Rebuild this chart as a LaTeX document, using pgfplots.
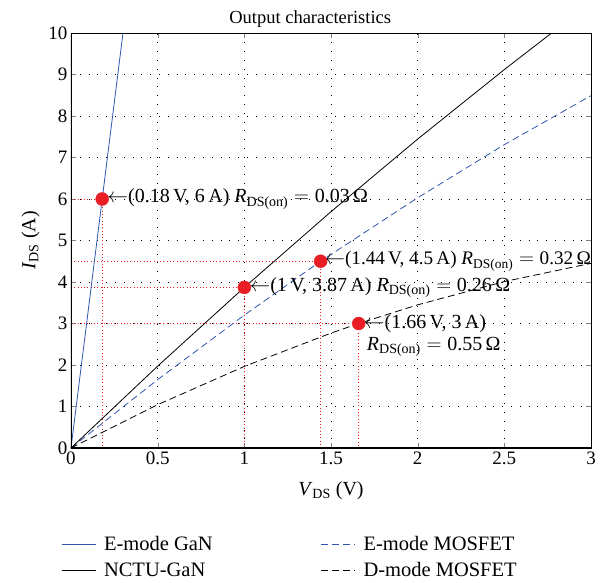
\documentclass[border=0pt]{standalone}
\usepackage{pgfplots}
\pgfplotsset{compat=1.18}
\usepackage{fontspec}
\setmainfont{Liberation Serif}

\definecolor{gblue}{RGB}{48,84,176}
\definecolor{mred}{RGB}{232,30,36}

\newcommand{\Rds}{\textit{R}\textsubscript{DS(on)}}

\begin{document}
\begin{tikzpicture}[font=\fontsize{19}{22}\selectfont]
\useasboundingbox (-71pt,-134pt) rectangle (541pt,448pt);
\begin{axis}[
  scale only axis,
  width=520pt, height=415pt,
  xmin=0, xmax=3, ymin=0, ymax=10,
  xtick={0,0.5,...,3}, ytick={0,1,...,10},
  /pgf/number format/assume math mode=true,
  tick align=inside,
  major tick length=5pt,
  axis line style={line width=0.9pt},
  grid=major,
  major grid style={black, line width=0.6pt, dash pattern=on 0.8pt off 8pt},
  title={Output characteristics},
  title style={at={(0.46,1)}, yshift=-4pt, font=\fontsize{18.5}{22}\selectfont},
  xlabel={\textit{V}\textsubscript{DS} (V)},
  ylabel={\textit{I}\textsubscript{DS} (A)},
  xlabel style={yshift=-10pt, font=\fontsize{20}{22}\selectfont},
  ylabel style={yshift=2pt, font=\fontsize{20}{22}\selectfont},
  legend columns=2,
  legend style={draw=none, fill=none, at={(-0.025,-0.203)}, anchor=north west,
    /tikz/every even column/.append style={column sep=106pt},
    row sep=6pt, font=\fontsize{20.5}{22}\selectfont},
  legend cell align=left,
  legend image code/.code={\draw[#1] (0pt,0pt) -- (34pt,0pt); \path (40pt,0pt);},
]
% guide lines from each operating point to the axes
\addplot[mred, line width=0.6pt, dash pattern=on 0.8pt off 2.5pt, forget plot] coordinates {(0,6) (0.18,6) (0.18,0)};
\addplot[mred, line width=0.6pt, dash pattern=on 0.8pt off 2.5pt, forget plot] coordinates {(0,3.87) (1,3.87) (1,0)};
\addplot[mred, line width=0.6pt, dash pattern=on 0.8pt off 2.5pt, forget plot] coordinates {(0,4.5) (1.44,4.5) (1.44,0)};
\addplot[mred, line width=0.6pt, dash pattern=on 0.8pt off 2.5pt, forget plot] coordinates {(0,3) (1.66,3) (1.66,0)};

% device curves
\addplot[gblue, line width=0.8pt] coordinates {(0,0) (0.18,6) (0.3,10)};
\addlegendentry{E-mode GaN}
\addplot[gblue, line width=0.8pt, dash pattern=on 7pt off 4pt] coordinates {
  (0,0) (0.5,1.648) (1,3.203) (1.44,4.5) (2,6.03) (2.5,7.31) (3,8.49)};
\addlegendentry{E-mode MOSFET}
\addplot[black, line width=0.8pt] coordinates {
  (0,0) (0.5,1.973) (1,3.87) (1.5,5.695) (2,7.444) (2.5,9.119) (2.8,10.088)};
\addlegendentry{NCTU-GaN}
\addplot[black, line width=0.8pt, dash pattern=on 7pt off 4pt] coordinates {
  (0,0) (0.5,1.044) (1,1.966) (1.5,2.769) (1.66,3) (2,3.45) (2.5,4.011) (3,4.45)};
\addlegendentry{D-mode MOSFET}

% operating points
\addplot[only marks, mark=*, mark size=6.5pt, mred, forget plot] coordinates {
  (0.18,6) (1,3.87) (1.44,4.5) (1.66,3)};

% heavier left and bottom frame
\draw[line width=2pt] (rel axis cs:0,1) -- (rel axis cs:0,0) -- (rel axis cs:1,0);

\begin{scope}[font=\fontsize{20}{23}\selectfont]
\node[anchor=west, inner sep=0pt, xshift=5pt] at (axis cs:0.18,6)
  {$\leftarrow$(0.18\,V, 6\,A) \Rds${}={}$0.03\,Ω};
\node[anchor=west, inner sep=0pt, xshift=5pt] at (axis cs:1,3.87)
  {$\leftarrow$(1\,V, 3.87\,A) \Rds${}={}$0.26\,Ω};
\node[anchor=west, inner sep=0pt, xshift=3.5pt, font=\fontsize{19.2}{23}\selectfont] at (axis cs:1.44,4.5)
  {$\leftarrow$(1.44\,V, 4.5\,A) \Rds${}={}$0.32\,Ω};
\node[anchor=west, inner sep=0pt, xshift=5pt] at (axis cs:1.66,3)
  {$\leftarrow$(1.66\,V, 3\,A)};
\node[anchor=base west, inner sep=0pt, xshift=8pt, yshift=-27pt] at (axis cs:1.66,3)
  {\Rds${}={}$0.55\,Ω};
\end{scope}
\end{axis}
\end{tikzpicture}
\end{document}
